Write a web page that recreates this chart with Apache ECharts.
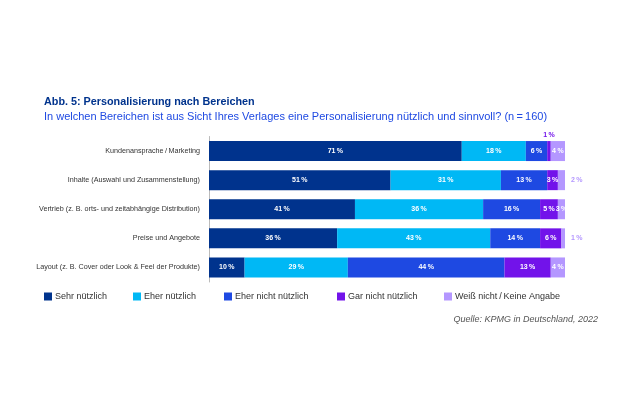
<!DOCTYPE html>
<html>
<head>
<meta charset="utf-8">
<script src="https://cdn.jsdelivr.net/npm/echarts@6/dist/echarts.min.js"></script>
<style>html,body{margin:0;padding:0;background:#fff}#c{width:630px;height:413px}</style>
</head>
<body>
<div id="c"></div>
<script>
var categories = [
  'Kundenansprache\u2009/\u2009Marketing',
  'Inhalte (Auswahl und Zusammenstellung)',
  'Vertrieb (z. B. orts- und zeitabhängige Distribution)',
  'Preise und Angebote',
  'Layout (z. B. Cover oder Look & Feel der Produkte)'
];
var seriesNames = ['Sehr nützlich', 'Eher nützlich', 'Eher nicht nützlich', 'Gar nicht nützlich', 'Weiß nicht\u2009/\u2009Keine Angabe'];
var sehrNuetzlich = [71, 51, 41, 36, 10];
var eherNuetzlich = [18, 31, 36, 43, 29];
var eherNichtNuetzlich = [6, 13, 16, 14, 44];
var garNichtNuetzlich = [1, 3, 5, 6, 13];
var weissNicht = [4, 2, 3, 1, 4];

var values = [sehrNuetzlich, eherNuetzlich, eherNichtNuetzlich, garNichtNuetzlich, weissNicht];
var colors = ['#00338D', '#00B8F5', '#1E49E2', '#7213EA', '#B497FF'];

// label overrides for tiny segments (series index, row index)
var labelOverrides = {
  '3-0': {position: 'top', distance: 2, color: '#7213EA'},
  '4-1': {position: 'right', distance: 6, color: '#B497FF'},
  '4-3': {position: 'right', distance: 6, color: '#B497FF'}
};

var series = values.map(function (arr, si) {
  return {
    name: seriesNames[si],
    type: 'bar',
    stack: 'total',
    barWidth: 20,
    itemStyle: {color: colors[si]},
    label: {
      show: true, position: 'inside', color: '#fff', fontSize: 7, fontWeight: 'bold',
      fontFamily: 'Liberation Sans, Arial, sans-serif',
      formatter: function (p) { return p.value + '\u2009%'; }
    },
    data: arr.map(function (v, ri) {
      var o = labelOverrides[si + '-' + ri];
      return o ? {value: v, label: o} : {value: v};
    })
  };
});

var legendLefts = [44, 133, 224, 337, 444];
var legends = seriesNames.map(function (n, i) {
  return {
    data: [n], left: legendLefts[i], top: 292, padding: 0, itemWidth: 8, itemHeight: 8,
    icon: 'rect', selectedMode: false,
    textStyle: {fontSize: 9, color: '#333', fontFamily: 'Liberation Sans, Arial, sans-serif', padding: [0, 0, 0, -2]}
  };
});

var chart = echarts.init(document.getElementById('c'));
chart.setOption({
  animation: false,
  title: {
    text: 'Abb. 5: Personalisierung nach Bereichen',
    subtext: 'In welchen Bereichen ist aus Sicht Ihres Verlages eine Personalisierung nützlich und sinnvoll? (n\u2009=\u2009160)',
    left: 39, top: 92, itemGap: 3,
    textStyle: {fontSize: 10.8, fontWeight: 'bold', color: '#00338D', fontFamily: 'Liberation Sans, Arial, sans-serif'},
    subtextStyle: {fontSize: 11, color: '#1E49E2', fontFamily: 'Liberation Sans, Arial, sans-serif'}
  },
  legend: legends,
  grid: {left: 209, right: 65, top: 136.5, height: 145.5, containLabel: false},
  xAxis: {type: 'value', min: 0, max: 100, show: false},
  yAxis: {
    type: 'category', data: categories, inverse: true,
    axisLine: {show: true, lineStyle: {color: '#bbb', width: 1}},
    axisTick: {show: false},
    axisLabel: {fontSize: 7.2, color: '#333', margin: 9, fontFamily: 'Liberation Sans, Arial, sans-serif'}
  },
  graphic: [{
    type: 'text', right: 32, top: 315,
    style: {text: 'Quelle: KPMG in Deutschland, 2022', fontSize: 9, fontStyle: 'italic', fill: '#555', fontFamily: 'Liberation Sans, Arial, sans-serif'}
  }],
  series: series
});
</script>
</body>
</html>
